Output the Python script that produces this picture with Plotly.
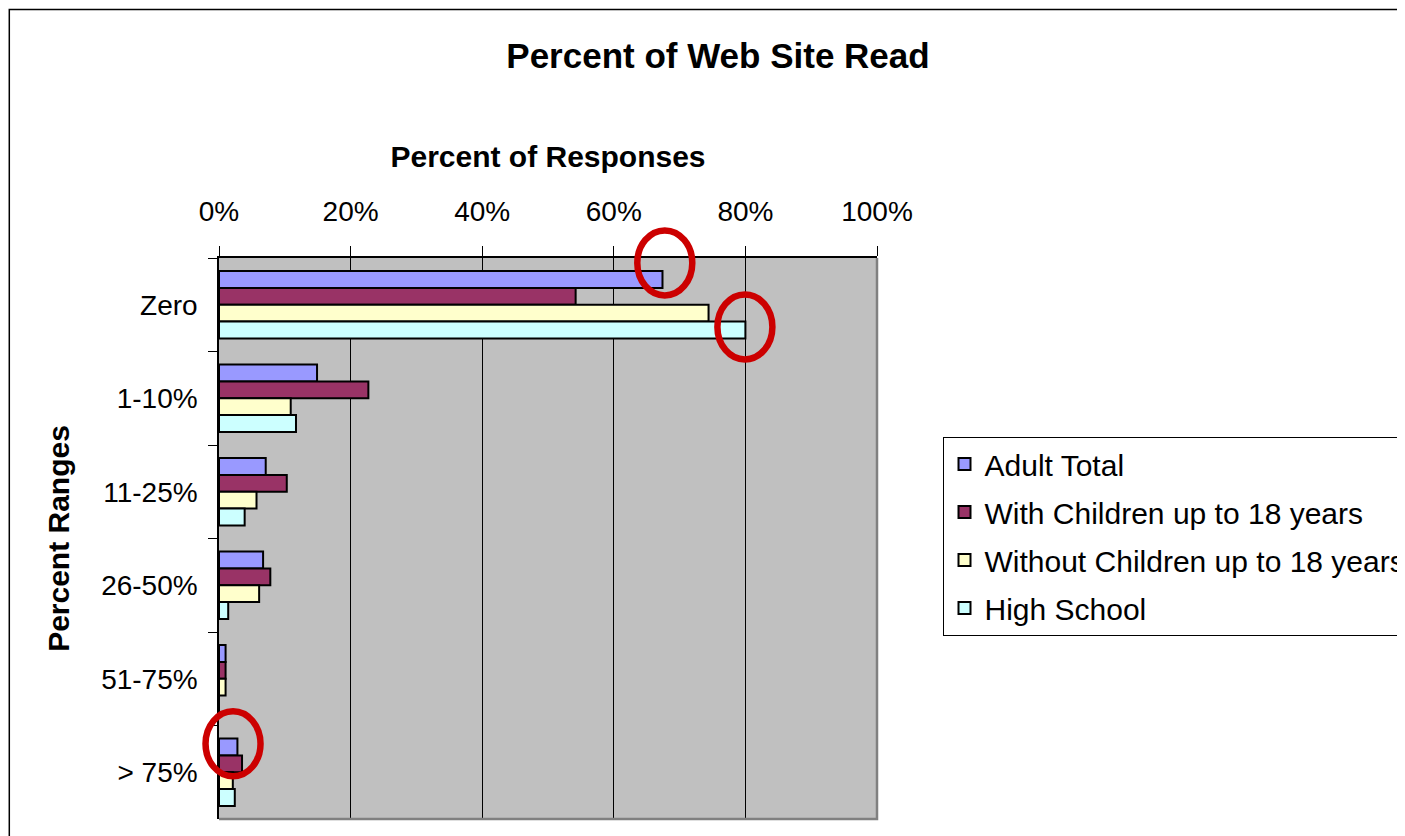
import plotly.graph_objects as go

categories = ["Zero", "1-10%", "11-25%", "26-50%", "51-75%", "> 75%"]
adult_total = [67.4, 14.9, 7.1, 6.7, 1.0, 2.8]
with_children = [54.2, 22.7, 10.3, 7.8, 1.0, 3.5]
without_children = [74.4, 10.9, 5.7, 6.1, 1.0, 2.1]
high_school = [80.0, 11.7, 3.9, 1.4, 0.0, 2.4]

series_names = ["Adult Total", "With Children up to 18 years",
                "Without Children up to 18 years", "High School"]
series_values = [adult_total, with_children, without_children, high_school]
series_colors = ["#9999FF", "#993366", "#FFFFCC", "#CCFFFF"]

FONT = "Liberation Sans, Arial, sans-serif"

X_RANGE = [0, 100]
Y_RANGE = [len(categories) - 0.5, -0.5]  # reversed: first category on top

# page has an 8px body margin; work in page pixels and subtract it
OFF = 8
W, H = 1405 - OFF, 836 - OFF
PLOT_L, PLOT_R, PLOT_T, PLOT_B = 219 - OFF, 877 - OFF, 257.6 - OFF, 819 - OFF
L, R, T, B = PLOT_L, W - PLOT_R, PLOT_T, H - PLOT_B
PW, PH = PLOT_R - PLOT_L, PLOT_B - PLOT_T

fig = go.Figure()
for name, vals, col in zip(series_names, series_values, series_colors):
    fig.add_trace(go.Bar(
        y=categories, x=vals, name=name, orientation="h",
        marker=dict(color=col, line=dict(color="black", width=2)),
        legendgroup=name,
    ))

def px_x(p):
    return (p - OFF - PLOT_L) / PW

def px_y(p):
    return (PLOT_B - (p - OFF)) / PH

def data_to_paper_x(v):
    return (v - X_RANGE[0]) / (X_RANGE[1] - X_RANGE[0])

def data_to_paper_y(ci):
    return (Y_RANGE[0] - ci) / (Y_RANGE[0] - Y_RANGE[1])

shapes = []
# outer chart border
shapes.append(dict(type="rect", xref="paper", yref="paper",
                   x0=px_x(9.3), x1=px_x(1500), y0=px_y(900), y1=px_y(8.8),
                   line=dict(color="black", width=1.5), fillcolor="rgba(0,0,0,0)", layer="below"))
# plot area right/bottom gray border
shapes.append(dict(type="path", xref="x domain", yref="y domain",
                   path="M 0 0 L 1 0 L 1 1", line=dict(color="#808080", width=2.5)))

# red highlight ellipses anchored to data values (paper refs so they are not clipped)
hx, hy = 27.5, 32.5
ellipses = [
    (adult_total[0], 0, 2.3, 41.8),
    (high_school[0], 0, -0.5, -22.2),
    (adult_total[5], 5, -4.4, 28.5),
]
for xv, ci, dx, dy in ellipses:
    shapes.append(dict(type="circle", xref="paper", yref="paper",
                       xsizemode="pixel", ysizemode="pixel",
                       xanchor=data_to_paper_x(xv), yanchor=data_to_paper_y(ci),
                       x0=dx - hx, x1=dx + hx, y0=dy - hy, y1=dy + hy,
                       line=dict(color="#CC0000", width=6.5), layer="above"))

fig.update_layout(
    width=W, height=H,
    margin=dict(l=L, r=R, t=T, b=B, autoexpand=False),
    paper_bgcolor="white", plot_bgcolor="#C0C0C0",
    font=dict(family=FONT, color="black"),
    barmode="group", bargap=0.28, bargroupgap=0,
    title=dict(text="<b>Percent of Web Site Read</b>", x=(718 - OFF) / W, xanchor="center",
               y=1 - (56 - OFF) / H, yanchor="middle", font=dict(size=35)),
    legend=dict(x=px_x(943.3), xanchor="left", y=px_y(436.5), yanchor="top",
                bordercolor="black", borderwidth=1.2, bgcolor="white",
                font=dict(size=30), traceorder="grouped", itemwidth=30,
                tracegroupgap=6),
    shapes=shapes,
    showlegend=True,
)

fig.update_xaxes(
    side="top", range=X_RANGE, dtick=20, ticksuffix="%",
    showgrid=True, gridcolor="black", gridwidth=1,
    showline=True, linecolor="black", linewidth=1.5,
    ticks="outside", ticklen=10, tickcolor="black",
    tickfont=dict(size=28), ticklabelstandoff=14,
    title=dict(text="<b>Percent of Responses</b>", font=dict(size=30), standoff=20),
    zeroline=False, fixedrange=True,
)
fig.update_yaxes(
    categoryorder="array", categoryarray=categories, range=Y_RANGE,
    showline=True, linecolor="black", linewidth=1.5,
    ticks="outside", ticklen=9, tickcolor="black", tickson="boundaries",
    tickfont=dict(size=28), ticklabelstandoff=14,
    title=dict(text="<b>Percent Ranges</b>", font=dict(size=30), standoff=23),
    showgrid=False, zeroline=False, fixedrange=True,
)

fig.write_html("out.html")
